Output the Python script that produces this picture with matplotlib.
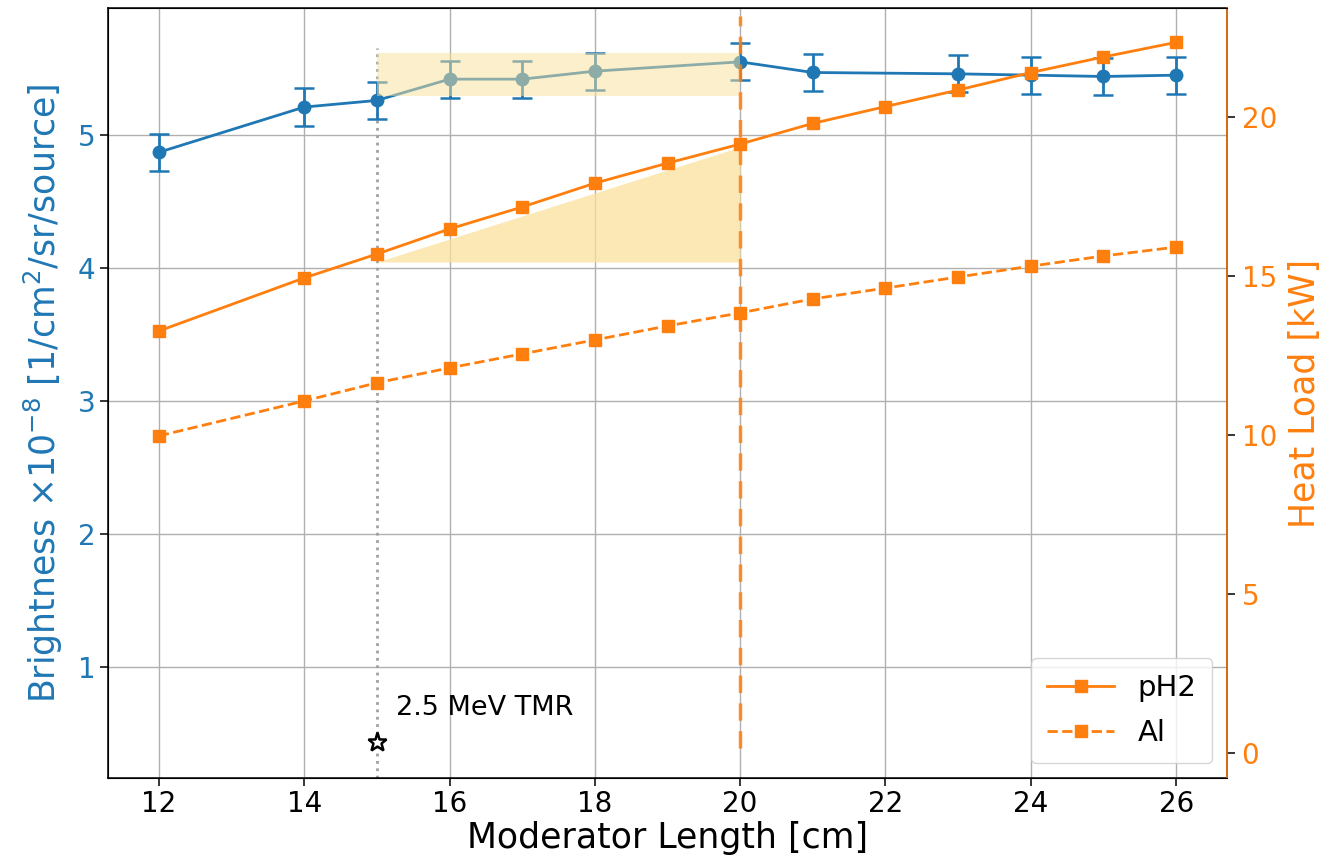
import matplotlib
matplotlib.use("Agg")
import matplotlib.pyplot as plt
import numpy as np

# ---- data ----
length_b = [12, 14, 15, 16, 17, 18, 20, 21, 23, 24, 25, 26]
brightness = [4.87, 5.21, 5.26, 5.42, 5.42, 5.48, 5.55, 5.47, 5.46, 5.45, 5.44, 5.45]
brightness_err = [0.14, 0.14, 0.14, 0.14, 0.14, 0.14, 0.14, 0.14, 0.14, 0.14, 0.14, 0.14]

length_h = [12, 14, 15, 16, 17, 18, 19, 20, 21, 22, 23, 24, 25, 26]
heat_ph2 = [13.27, 14.94, 15.69, 16.48, 17.17, 17.92, 18.55, 19.15, 19.80, 20.33, 20.85, 21.40, 21.89, 22.35]
heat_al = [9.97, 11.07, 11.64, 12.11, 12.55, 12.99, 13.43, 13.84, 14.28, 14.62, 14.97, 15.31, 15.63, 15.91]

tmr_x = [15]
tmr_y = [0.436]
tmr_label = "2.5 MeV TMR"

# highlight regions
rect_x = [15, 20]
rect_y = [5.29, 5.62]
tri_x = [15, 20]
tri_low = [15.44, 15.44]
tri_high = [15.44, 19.06]

xticks = [12, 14, 16, 18, 20, 22, 24, 26]

blue = "#1f77b4"
orange = "#ff7f0e"
hl = "#fbe19b"

fig = plt.figure(figsize=(13.38, 8.65), dpi=100)
ax1 = fig.add_axes([108/1338, 1-778/865, (1227-108)/1338, (778-8)/865])
ax2 = ax1.twinx()

ax1.grid(True, color="#b0b0b0", linewidth=1)
ax1.set_axisbelow(True)

ax1.errorbar(length_b, brightness, yerr=brightness_err, color=blue, marker="o",
             ms=9, lw=2, capsize=7, elinewidth=2, capthick=1.8, zorder=2)
ax1.fill_between(rect_x, [rect_y[0]]*2, [rect_y[1]]*2, color=hl, alpha=0.5,
                 lw=0, zorder=3)
ax1.axvline(tmr_x[0], ymax=0.948, color="#a0a0a0", ls=":", lw=2, zorder=1)
ax1.plot(tmr_x, tmr_y, marker="*", ms=14, mfc="white", mec="black", mew=1.8,
         ls="none", zorder=4)
ax1.text(tmr_x[0] + 0.27, tmr_y[0] + 0.2, tmr_label, fontsize=19.5)

ax2.fill_between(tri_x, tri_low, tri_high, color=hl, alpha=0.75, lw=0, zorder=1)
ax2.plot(length_h, heat_ph2, color=orange, marker="s", ms=9, lw=2, label="pH2", zorder=3)
ax2.plot(length_h, heat_al, color=orange, marker="s", ms=9, lw=2, ls="--", label="Al", zorder=3)
ax2.axvline(20, ymin=0.039, ymax=0.99, color=orange, ls=(0, (5, 3)), lw=2.5,
            alpha=0.85, zorder=2)

ax1.set_xlim(11.3, 26.7)
ax1.set_ylim(0.165, 5.955)
ax2.set_ylim(-0.79, 23.43)
ax1.set_xticks(xticks)
ax1.set_yticks([1, 2, 3, 4, 5])
ax2.set_yticks([0, 5, 10, 15, 20])

ax1.tick_params(axis="x", labelsize=20, length=5.5, width=1.1)
ax1.tick_params(axis="y", labelsize=20, labelcolor=blue, length=5.5, width=1.1)
ax2.tick_params(axis="y", labelsize=20, labelcolor=orange, length=5.5, width=1.1, pad=5)
ax2.spines["right"].set_color(orange)
for sp in ax1.spines.values():
    sp.set_linewidth(1.1)
ax2.spines["right"].set_linewidth(1.1)

ax1.set_xlabel("Moderator Length [cm]", fontsize=25, labelpad=2)
ax1.set_ylabel(r"Brightness $\times 10^{-8}$ [1/cm$^2$/sr/source]", fontsize=25,
               color=blue, labelpad=9)
ax2.set_ylabel("Heat Load [kW]", fontsize=25, color=orange, labelpad=8)

ax2.legend(loc="lower right", fontsize=21, handlelength=2.3, borderpad=0.55,
           labelspacing=0.6)

fig.savefig("out.png", dpi=100)
